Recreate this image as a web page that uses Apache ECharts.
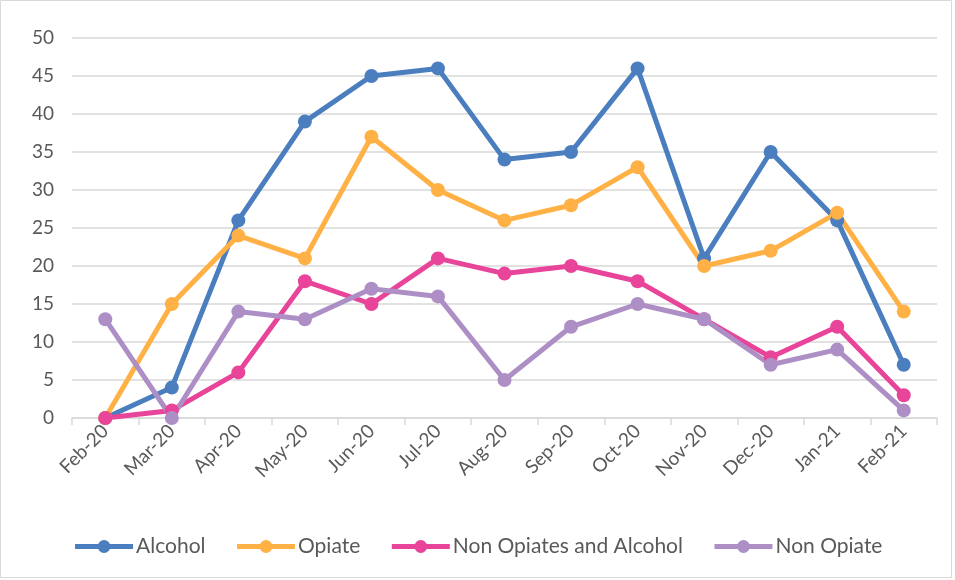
<!DOCTYPE html>
<html><head><meta charset="utf-8">
<script src="https://cdn.jsdelivr.net/npm/echarts@6/dist/echarts.min.js"></script>
<style>html,body{margin:0;padding:0;background:#fff}#c{width:955px;height:580px}</style>
</head><body><div id="c"></div>
<script>
const categories = ['Feb-20','Mar-20','Apr-20','May-20','Jun-20','Jul-20','Aug-20','Sep-20','Oct-20','Nov-20','Dec-20','Jan-21','Feb-21'];
const alcohol = [0,4,26,39,45,46,34,35,46,21,35,26,7];
const opiate = [0,15,24,21,37,30,26,28,33,20,22,27,14];
const nonOpiatesAlcohol = [0,1,6,18,15,21,19,20,18,13,8,12,3];
const nonOpiate = [13,0,14,13,17,16,5,12,15,13,7,9,1];
const seriesNames = ['Alcohol','Opiate','Non Opiates and Alcohol','Non Opiate'];
const colors = ['#4a7ebf','#ffb145','#e8449a','#ad8fc6'];
const dataSets = [alcohol, opiate, nonOpiatesAlcohol, nonOpiate];
const font = 'Lato, "Open Sans", sans-serif';
const chart = echarts.init(document.getElementById('c'));
chart.setOption({
  animation: false,
  color: colors,
  graphic: [{type:'rect', shape:{x:0.5,y:0.5,width:951,height:577}, style:{fill:'none', stroke:'#d9d9d9', lineWidth:1}, silent:true}],
  grid: {left:72, right:18, top:38, bottom:162},
  legend: {
    bottom: 18, left: 'center', itemWidth: 58, itemHeight: 16, itemGap: 29,
    lineStyle: {width: 5},
    textStyle: {fontFamily: font, fontSize: 21, color:'#595959', padding:[0,0,0,-2]},
    data: seriesNames
  },
  xAxis: {
    type:'category', data: categories, boundaryGap: true,
    axisLine:{lineStyle:{color:'#d9d9d9', width:1.5}},
    axisTick:{show:true, length:7, lineStyle:{color:'#d9d9d9', width:1.5}},
    axisLabel:{rotate:45, fontFamily:font, fontSize:19, color:'#595959', margin:10, interval:0}
  },
  yAxis: {
    type:'value', min:0, max:50, interval:5,
    axisLine:{show:false}, axisTick:{show:false},
    splitLine:{lineStyle:{color:'#d9d9d9', width:1.5}},
    axisLabel:{fontFamily:font, fontSize:19, color:'#595959', margin:18}
  },
  series: dataSets.map((d,i)=>({
    name: seriesNames[i], type:'line', data:d,
    symbol:'circle', symbolSize:14,
    lineStyle:{width:5, color:colors[i]},
    itemStyle:{color:colors[i]}
  }))
});
</script></body></html>
